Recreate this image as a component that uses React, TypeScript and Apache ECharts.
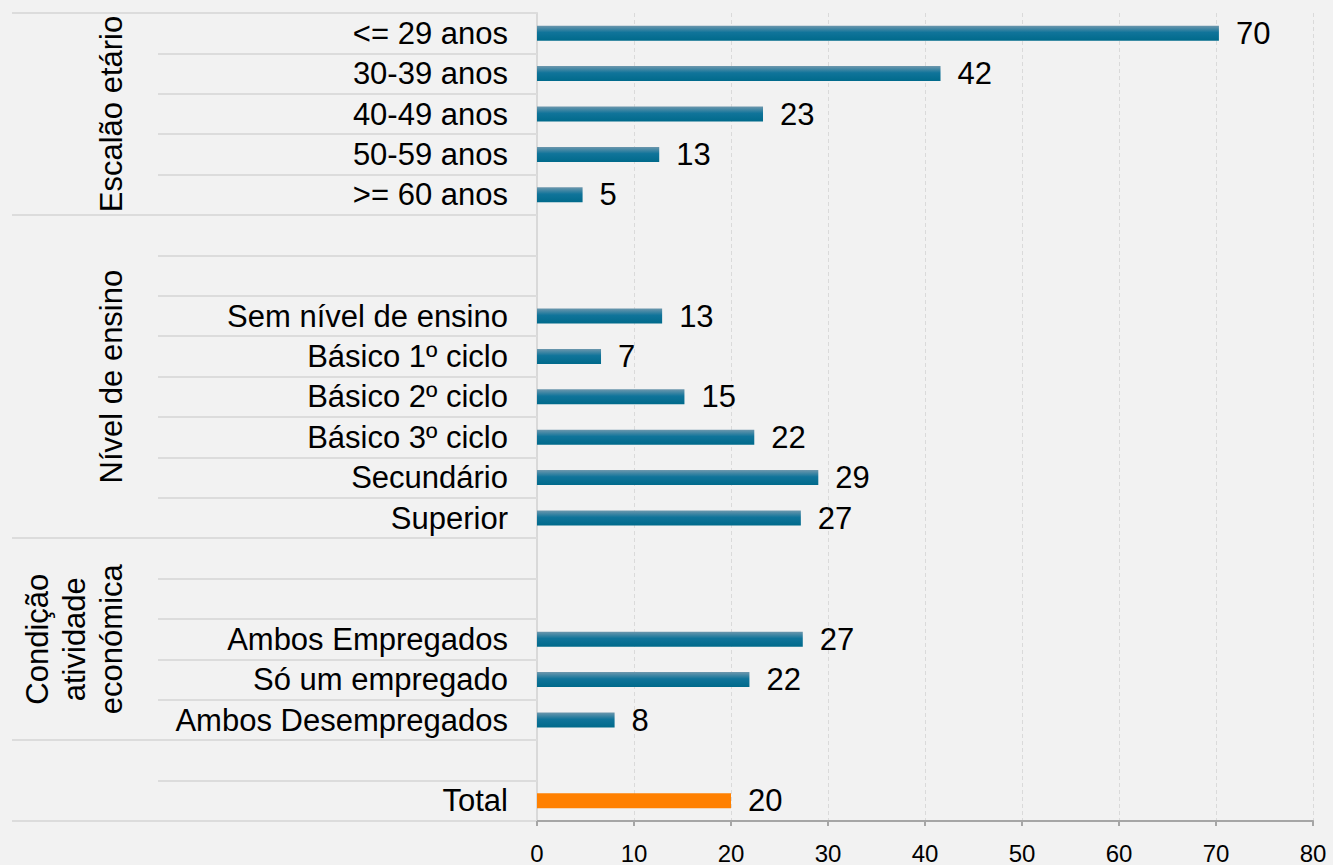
import React, { useEffect, useRef } from "react";
import * as echarts from "echarts";

const categories = [
  "<= 29 anos",
  "30-39 anos",
  "40-49 anos",
  "50-59 anos",
  ">= 60 anos",
  "",
  "",
  "Sem nível de ensino",
  "Básico 1º ciclo",
  "Básico 2º ciclo",
  "Básico 3º ciclo",
  "Secundário",
  "Superior",
  "",
  "",
  "Ambos Empregados",
  "Só um empregado",
  "Ambos Desempregados",
  "",
  "Total",
];
const values: (number | null)[] = [
  70.3, 41.6, 23.3, 12.6, 4.7, null, null, 12.9, 6.6, 15.2, 22.4, 29.0, 27.2,
  null, null, 27.4, 21.9, 8.0, null, 20.0,
];
const groupNames = ["Escalão etário", "Nível de ensino", "Condição\natividade\neconómica"];
const groupStart = [0, 5, 13];
const groupEnd = [5, 13, 18];
const xMin = 0;
const xMax = 80;
const xInterval = 10;
const totalName = "Total";

const FONT = "'Liberation Sans', Arial, sans-serif";

export default function App() {
  const ref = useRef<HTMLDivElement>(null);
  useEffect(() => {
    if (!ref.current) return;
    const chart = echarts.init(ref.current, undefined, { renderer: "svg" });
    const boundaries = Array.from(
      new Set([0, ...groupStart, ...groupEnd, categories.length])
    ).sort((a, b) => a - b);

    const barGradient = new echarts.graphic.LinearGradient(0, 0, 0, 1, [
      { offset: 0, color: "#6d97ad" },
      { offset: 0.45, color: "#10749a" },
      { offset: 1, color: "#006a8b" },
    ]);

    chart.setOption({
      animation: false,
      backgroundColor: "#f2f2f2",
      textStyle: { fontFamily: FONT },
      grid: {
        left: 537,
        right: 20,
        top: 13,
        bottom: 44,
        containLabel: false,
        outerBoundsMode: "none",
      },
      xAxis: {
        type: "value",
        min: xMin,
        max: xMax,
        interval: xInterval,
        axisLine: { show: true, onZero: false, lineStyle: { color: "#a6a6a6", width: 2 } },
        axisTick: { show: true, length: 5, lineStyle: { color: "#a6a6a6", width: 2 } },
        axisLabel: { fontSize: 24, color: "#000", margin: 20, fontFamily: FONT },
        splitLine: { show: true, lineStyle: { color: "#dadada", width: 1, type: [4, 3] } },
      },
      yAxis: [
        {
          type: "category",
          data: categories,
          inverse: true,
          position: "left",
          axisLine: { show: true, onZero: false, lineStyle: { color: "#d9d9d9", width: 2 } },
          axisTick: {
            show: true,
            interval: 0,
            length: 379,
            lineStyle: { color: "#dcdcdc", width: 2 },
          },
          axisLabel: {
            interval: 0,
            fontSize: 31,
            color: "#000",
            margin: 29,
            fontFamily: FONT,
          },
          splitLine: { show: false },
        },
        {
          type: "value",
          min: 0,
          max: categories.length,
          inverse: true,
          position: "left",
          offset: 0,
          axisLine: { show: false, onZero: false },
          axisTick: {
            show: true,
            customValues: boundaries,
            length: 525,
            lineStyle: { color: "#dcdcdc", width: 2 },
          },
          axisLabel: { show: false },
          splitLine: { show: false },
        },
      ],
      series: [
        {
          type: "bar",
          yAxisIndex: 0,
          barWidth: 15,
          data: values.map((v, i) =>
            v == null
              ? "-"
              : categories[i] === totalName
              ? { value: v, itemStyle: { color: "#ff8000" } }
              : { value: v, itemStyle: { color: barGradient } }
          ),
          label: {
            show: true,
            position: "right",
            distance: 17,
            fontSize: 31,
            color: "#000",
            fontFamily: FONT,
            formatter: (p: any) => String(Math.round(p.value)),
          },
        },
      ],
    });

    const groupGraphics = groupNames.map((name, i) => {
      const mid = (groupStart[i] + groupEnd[i]) / 2;
      const y = chart.convertToPixel({ yAxisIndex: 1 }, mid) as number;
      return {
        type: "text",
        x: 130,
        y,
        rotation: Math.PI / 2,
        style: {
          text: name,
          font: `31px ${FONT}`,
          fill: "#000",
          align: "center",
          verticalAlign: "bottom",
          textAlign: "center",
          textVerticalAlign: "bottom",
          lineHeight: 37,
        },
      };
    });
    chart.setOption({ graphic: groupGraphics });

    return () => chart.dispose();
  }, []);
  return (
    <div
      ref={ref}
      style={{ position: "fixed", left: 0, top: 0, width: 1333, height: 865 }}
    />
  );
}
